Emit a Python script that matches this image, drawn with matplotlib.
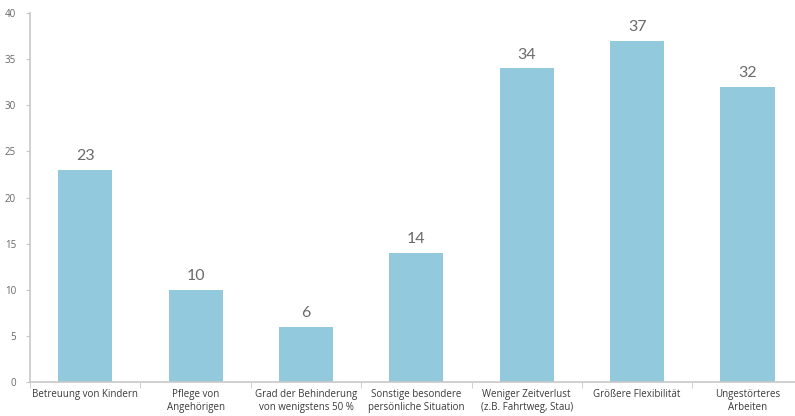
import matplotlib
matplotlib.use("Agg")
from matplotlib import pyplot as plt
import numpy as np

categories = [
    "Betreuung von Kindern",
    "Pflege von\nAngehörigen",
    "Grad der Behinderung\nvon wenigstens 50 %",
    "Sonstige besondere\npersönliche Situation",
    "Weniger Zeitverlust\n(z.B. Fahrtweg, Stau)",
    "Größere Flexibilität",
    "Ungestörteres\nArbeiten",
]
values = [23, 10, 6, 14, 34, 37, 32]
y_ticks = [0, 5, 10, 15, 20, 25, 30, 35, 40]

bar_color = "#92c9dc"
axis_color = "#c8c8c8"

fig = plt.figure(figsize=(7.95, 4.16), dpi=100)
ax = fig.add_axes([0.0377, 0.0817, 0.972, 0.887])

x = np.arange(len(categories))
bars = ax.bar(x, values, width=0.49, color=bar_color)

for xi, v in zip(x, values):
    ax.text(xi, v + 0.7, str(v), ha="center", va="bottom",
            fontsize=11.5, color="#6a6a6a", family="Lato")

ax.set_xlim(-0.5, len(categories) - 0.5)
ax.set_ylim(0, 40)
ax.set_yticks(y_ticks)
ax.set_yticklabels([str(t) for t in y_ticks], fontsize=7, color="#666666",
                   family="Open Sans")

# category labels at bar centres, tick marks between categories
ax.set_xticks(x)
ax.set_xticklabels(categories, fontsize=7, color="#3a3a3a", va="top",
                   family="Open Sans", linespacing=1.25)
ax.tick_params(axis="x", length=0, pad=5)
ax.set_xticks(np.arange(len(categories) + 1) - 0.5, minor=True)
ax.tick_params(axis="x", which="minor", length=4, color=axis_color)
ax.tick_params(axis="y", length=3, color=axis_color, pad=7)

for side in ["top", "right"]:
    ax.spines[side].set_visible(False)
for side in ["left", "bottom"]:
    ax.spines[side].set_color(axis_color)
    ax.spines[side].set_linewidth(1.2)

fig.savefig("out.png", dpi=100)
